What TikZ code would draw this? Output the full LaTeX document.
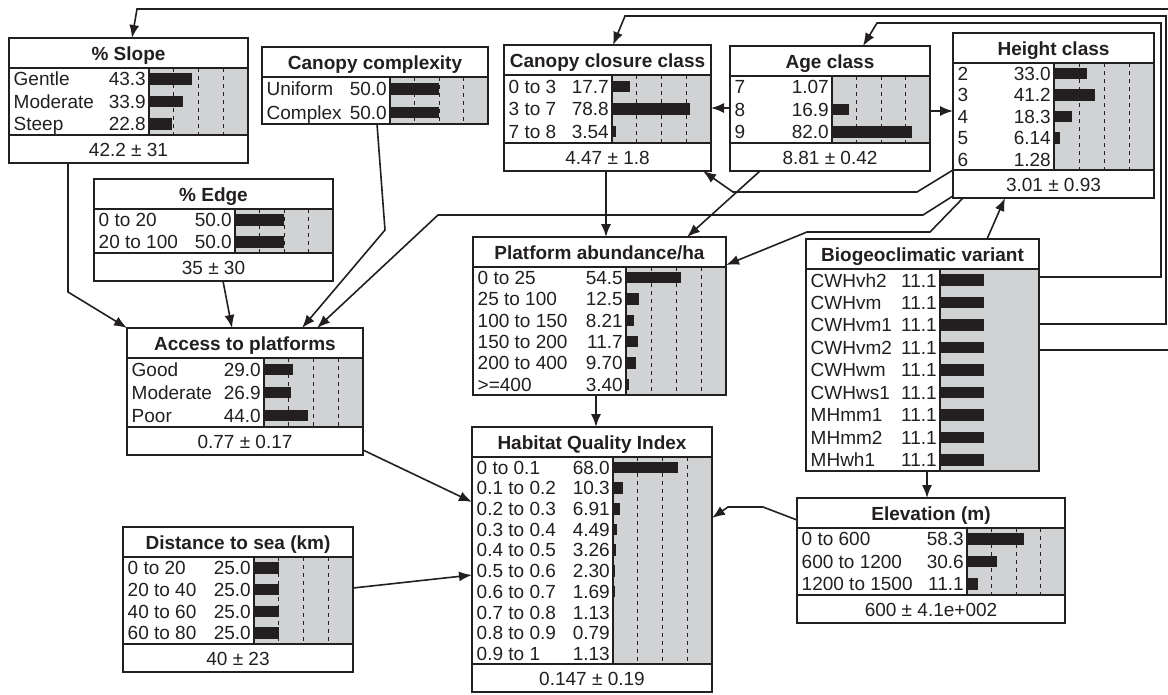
\documentclass[tikz,border=0pt]{standalone}
\usepackage{fontspec}
\setmainfont{Liberation Sans}
\usetikzlibrary{arrows.meta,calc}
\definecolor{ink}{RGB}{35,31,32}
\definecolor{panel}{RGB}{208,210,212}

\newif\ifgridlines \gridlinestrue
\newcount\nrows

% One belief box: #1 name, #2 left, #3 right, #4 x of the bar divider,
% #5 top, #6 bottom of the table, #7 title, #8 mean line (may be empty),
% #9 rows as label/value/bar length in percent of the panel
\newcommand\netbox[9]{%
  \pgfmathsetmacro\tbar{#5+30}%
  \def\meanarg{#8}%
  \ifx\meanarg\empty \pgfmathsetmacro\ybot{#6}\else \pgfmathsetmacro\ybot{#6+28}\fi
  \pgfmathsetmacro\bw{#3-#2}%
  \pgfmathsetmacro\bh{\ybot-#5}%
  \node[minimum width=\bw pt, minimum height=\bh pt, inner sep=0pt, outer sep=0pt,
        anchor=north west] (#1) at (#2,#5) {};
  \fill[panel] (#4,\tbar) rectangle (#3,#6);
  \ifgridlines
    \foreach \f in {0.25,0.5,0.75}{%
      \pgfmathsetmacro\gx{#4+\f*(#3-#4)}%
      \draw[gridline] (\gx,\tbar) -- (\gx,#6);}%
  \fi
  \global\nrows=0
  \foreach \lab/\val/\len in {#9}{\global\advance\nrows by 1}%
  \pgfmathsetmacro\pitch{(#6-\tbar)/\the\nrows}%
  \foreach \lab/\val/\len [count=\i] in {#9}{%
    \pgfmathsetmacro\yc{\tbar+(\i-0.5)*\pitch}%
    \pgfmathsetmacro\xe{#4+\len/100*(#3-#4)}%
    \fill[ink] (#4,\yc-5.75) rectangle (\xe,\yc+5.75);
    \node[anchor=base west, inner sep=0pt] at (#2+4.5,\yc+6.8) {\lab};
    \node[anchor=base east, inner sep=0pt] at (#4-3,\yc+6.8) {\val};
  }%
  \node[titletext, anchor=base, inner sep=0pt] at ({(#2+#3)/2},{#5+22}) {#7};
  \ifx\meanarg\empty\else
    \node[anchor=base, inner sep=0pt] at ({(#2+#3)/2},{#6+21}) {#8};
    \draw[frame] (#2,#6) -- (#3,#6);
  \fi
  \draw[frame] (#2,\tbar) -- (#3,\tbar) (#4,\tbar) -- (#4,#6);
  \draw[frame] (#2,#5) rectangle (#3,\ybot);
}

\begin{document}
\begin{tikzpicture}[x=1pt, y=-1pt,
  every node/.style={font=\fontsize{19}{21}\selectfont, text=ink},
  titletext/.style={font=\fontsize{19}{21}\selectfont\bfseries},
  frame/.style={draw=ink, line width=1.7pt},
  gridline/.style={draw=ink, line width=0.9pt, dash pattern=on 4pt off 4pt},
  link/.style={draw=ink, line width=1.6pt, line join=miter, -{Latex[length=13pt,width=10pt]}}]

\path[use as bounding box, fill=white] (0,0) rectangle (1168,694);

\netbox{slope}{9}{248}{149}{38}{135}{\% Slope}{42.2 ± 31}
  {Gentle/43.3/43.3, Moderate/33.9/33.9, Steep/22.8/22.8}
\netbox{cancomp}{262}{488}{390}{47}{124}{Canopy complexity}{}
  {Uniform/50.0/50.0, Complex/50.0/50.0}
\netbox{closure}{504}{711}{612}{45}{143}{Canopy closure class}{4.47 ± 1.8}
  {0 to 3/17.7/17.7, 3 to 7/78.8/78.8, 7 to 8/3.54/3.54}
\netbox{age}{730}{930}{832}{46}{143}{Age class}{8.81 ± 0.42}
  {7/1.07/1.07, 8/16.9/16.9, 9/82.0/82.0}
\netbox{height}{953}{1154}{1054}{33}{170}{Height class}{3.01 ± 0.93}
  {2/33.0/33.0, 3/41.2/41.2, 4/18.3/18.3, 5/6.14/6.14, 6/1.28/1.28}
\netbox{edge}{94}{333}{235}{179}{253}{\% Edge}{35 ± 30}
  {0 to 20/50.0/50.0, 20 to 100/50.0/50.0}
\netbox{access}{127}{363}{264}{328}{427}{Access to platforms}{0.77 ± 0.17}
  {Good/29.0/29.0, Moderate/26.9/26.9, Poor/44.0/44.0}
\netbox{platform}{473}{726}{626}{237}{395}{Platform abundance/ha}{}
  {0 to 25/54.5/54.5, 25 to 100/12.5/12.5, 100 to 150/8.21/8.21,
   150 to 200/11.7/11.7, 200 to 400/9.70/9.70, >=400/3.40/3.40}
\gridlinesfalse
\netbox{bio}{806}{1039}{940}{239}{471}{Biogeoclimatic variant}{}
  {CWHvh2/11.1/44.4, CWHvm/11.1/44.4, CWHvm1/11.1/44.4, CWHvm2/11.1/44.4,
   CWHwm/11.1/44.4, CWHws1/11.1/44.4, MHmm1/11.1/44.4, MHmm2/11.1/44.4,
   MHwh1/11.1/44.4}
\gridlinestrue
\netbox{hqi}{472}{712}{613}{427}{664}{Habitat Quality Index}{0.147 ± 0.19}
  {0 to 0.1/68.0/66, 0.1 to 0.2/10.3/10.3, 0.2 to 0.3/6.91/6.91,
   0.3 to 0.4/4.49/4.49, 0.4 to 0.5/3.26/3.26, 0.5 to 0.6/2.30/2.30,
   0.6 to 0.7/1.69/1.69, 0.7 to 0.8/1.13/1.13, 0.8 to 0.9/0.79/0.79,
   0.9 to 1/1.13/1.13}
\netbox{dist}{123}{353}{254}{527}{644}{Distance to sea (km)}{40 ± 23}
  {0 to 20/25.0/25.0, 20 to 40/25.0/25.0, 40 to 60/25.0/25.0, 60 to 80/25.0/25.0}
\netbox{elev}{797}{1065}{967}{498}{595}{Elevation (m)}{600 ± 4.1e+002}
  {0 to 600/58.3/58.3, 600 to 1200/30.6/30.6, 1200 to 1500/11.1/11.1}

% links leaving the biogeoclimatic variant
\draw[link] ($(bio.north east)+(0,111)$) -- (1175,350) -- (1175,9) -- (137,9)
  -- ($(slope.north west)+(123,0)$);
\draw[link] ($(bio.north east)+(0,85)$) -- (1166,324) -- (1166,16) -- (625,16)
  -- ($(closure.north west)+(109,0)$);
\draw[link] ($(bio.north east)+(0,38)$) -- (1161,277) -- (1161,23) -- (877,23)
  -- ($(age.north west)+(133,0)$);
\draw[link] ($(bio.north west)+(181,0)$) -- ($(height.south west)+(52,0)$);
\draw[link] ($(bio.south west)+(121,0)$) -- ($(elev.north west)+(130,0)$);

% links leaving the age class
\draw[link] ($(age.north west)+(0,62)$) -- ($(closure.north east)+(0,63)$);
\draw[link] ($(age.north east)+(0,65)$) -- ($(height.north west)+(0,78)$);
\draw[link] ($(age.south west)+(30,0)$) -- ($(platform.north west)+(214,0)$);

% canopy closure to platforms
\draw[link] ($(closure.south west)+(102,0)$) -- ($(platform.north west)+(133,0)$);

% links leaving the height class
\draw[link] ($(height.north west)+(0,137)$) -- (917,192) -- (733,192)
  -- ($(closure.south east)+(-8,0)$);
\draw[link] ($(height.north west)+(0,163)$) -- (923,215) -- (438,215)
  -- ($(access.north west)+(190,0)$);
\draw[link] ($(height.south west)+(10,0)$) -- (930,232) -- (807,232)
  -- ($(platform.north east)+(0,28)$);

% links into access to platforms
\draw[link] ($(cancomp.south west)+(115,0)$) -- (385,230)
  -- ($(access.north west)+(175,0)$);
\draw[link] ($(slope.south west)+(59,0)$) -- (68,292) -- (access.north west);
\draw[link] ($(edge.south west)+(129,0)$) -- ($(access.north west)+(105,0)$);

% links into the habitat quality index
\draw[link] ($(access.south east)+(0,-5)$) -- ($(hqi.north west)+(0,75)$);
\draw[link] ($(dist.north east)+(0,61)$) -- ($(hqi.north west)+(0,148)$);
\draw[link] ($(platform.south west)+(123,0)$) -- ($(hqi.north west)+(124,0)$);
\draw[link] ($(elev.north west)+(0,22)$) -- (763,507) -- (728,507)
  -- ($(hqi.north east)+(0,91)$);
\end{tikzpicture}
\end{document}
